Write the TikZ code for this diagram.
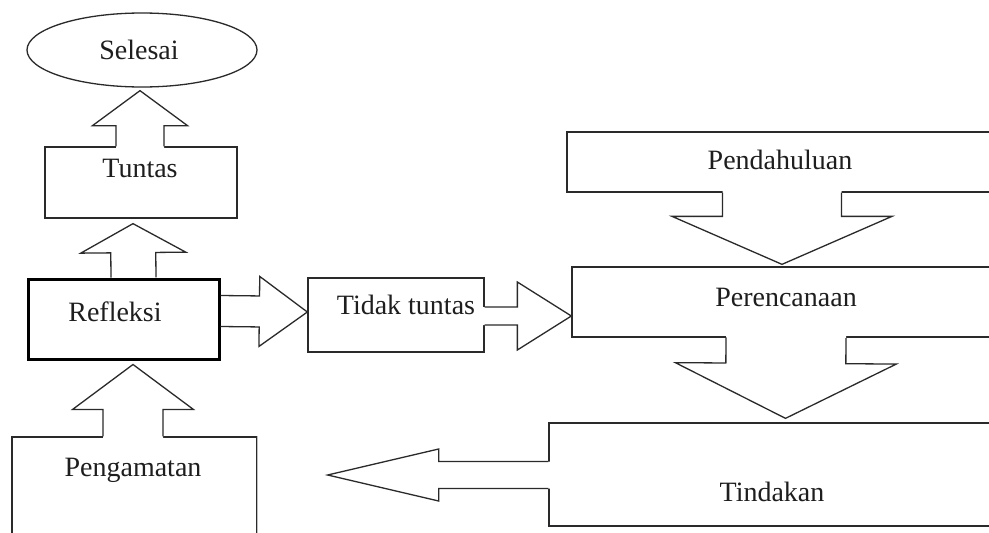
\documentclass[tikz,border=0pt]{standalone}
\usepackage{fontspec}
\setmainfont{Liberation Serif}
\usetikzlibrary{calc,shapes.geometric}
\definecolor{linec}{HTML}{2A2A2A}
\definecolor{txtc}{HTML}{1E1E1E}
\tikzset{
  edgeline/.style={draw=linec, line width=1.3pt, line join=miter},
  boxnode/.style={edgeline, rectangle, inner sep=0pt},
  lbl/.style={text=txtc, inner sep=0pt, font=\fontsize{28}{33}\selectfont},
}
% #1 tail point (on box edge), #2 tip, #3 shaft half width, #4 head half width,
% #5 head length, #6 offset of filled tail (negative = behind tail, erasing box edge)
\newcommand\blockarrow[6]{%
  \coordinate (ba-T) at #1;
  \coordinate (ba-P) at #2;
  \coordinate (ba-H) at ($(ba-P)!#5!(ba-T)$);
  \coordinate (ba-F) at ($(ba-T)!#6!(ba-P)$);
  \fill[white] ($(ba-F)!#3!90:(ba-P)$) -- ($(ba-H)!#3!90:(ba-P)$) -- ($(ba-H)!#4!90:(ba-P)$) -- (ba-P)
     -- ($(ba-H)!#4!-90:(ba-P)$) -- ($(ba-H)!#3!-90:(ba-P)$) -- ($(ba-F)!#3!-90:(ba-P)$) -- cycle;
  \draw[edgeline] ($(ba-T)!#3!90:(ba-P)$) -- ($(ba-H)!#3!90:(ba-P)$) -- ($(ba-H)!#4!90:(ba-P)$) -- (ba-P)
     -- ($(ba-H)!#4!-90:(ba-P)$) -- ($(ba-H)!#3!-90:(ba-P)$) -- ($(ba-T)!#3!-90:(ba-P)$);
}
\begin{document}
\begin{tikzpicture}[x=1pt,y=-1pt]
\useasboundingbox[fill=white] (0,0) rectangle (989,533);
% boxes
\node[edgeline, ellipse, minimum width=230pt, minimum height=74pt, inner sep=0pt] (selesai) at (142,50) {};
\node[boxnode, minimum width=192pt, minimum height=71pt] (tuntas) at (141,182.5) {};
\node[boxnode, minimum width=245pt, minimum height=108pt] (pengamatan) at (134.5,491) {};
\draw[draw=black!25, line width=1.3pt] (pengamatan.north east) -- (pengamatan.south east);
\node[boxnode, minimum width=176pt, minimum height=74pt] (tidak) at (396,315) {};
\node[boxnode, minimum width=433pt, minimum height=60pt] (pendahuluan) at (783.5,162) {};
\node[boxnode, minimum width=428pt, minimum height=70pt] (perencanaan) at (786,302) {};
\node[boxnode, minimum width=451pt, minimum height=103pt] (tindakan) at (774.5,474.5) {};
\node[rectangle, draw=black, line width=3pt, inner sep=0pt, minimum width=191pt, minimum height=80pt] (refleksi) at (123.5,319) {};
% block arrows
\blockarrow{($(tuntas.north)+(-1,0)$)}{($(selesai.south)+(-2,3)$)}{24pt}{47.5pt}{35pt}{-2.5pt}
\blockarrow{($(refleksi.north)+(10,0)$)}{($(tuntas.south)+(-8,5)$)}{22.5pt}{52.5pt}{29pt}{1.5pt}
\blockarrow{($(pengamatan.north)+(-1.5,0)$)}{($(refleksi.south)+(9.5,4)$)}{30pt}{60.5pt}{45pt}{-2.5pt}
\blockarrow{($(refleksi.east)+(0,-8)$)}{($(tidak.west)+(0,-3)$)}{15.5pt}{35pt}{48pt}{1.5pt}
\blockarrow{($(tidak.east)+(0,1)$)}{($(perencanaan.west)+(0,14)$)}{9pt}{34pt}{54pt}{-2.5pt}
\blockarrow{($(pendahuluan.south)+(-1.5,0)$)}{($(perencanaan.north)+(-4,-2)$)}{59.5pt}{110pt}{48pt}{-2.5pt}
\blockarrow{(perencanaan.south)}{($(tindakan.north)+(11,-4)$)}{60pt}{110.5pt}{55pt}{-2.5pt}
\blockarrow{($(tindakan.west)+(0,0.5)$)}{($(pengamatan.east |- tindakan.west)+(70,0.5)$)}{13.5pt}{26pt}{111pt}{-2.5pt}
% labels
\node[lbl] (tSelesai) at (139,50) {Selesai};
\node[lbl] (tTuntas) at (140,168) {Tuntas};
\node[lbl] (tRefleksi) at (115,312) {Refleksi};
\node[lbl] (tPengamatan) at (133,470) {Pengamatan};
\node[lbl] (tTidak) at (406,305) {Tidak tuntas};
\node[lbl] (tPendahuluan) at (780,160) {Pendahuluan};
\node[lbl] (tPerencanaan) at (786,297) {Perencanaan};
\node[lbl] (tTindakan) at (772,492) {Tindakan};
\end{tikzpicture}
\end{document}
